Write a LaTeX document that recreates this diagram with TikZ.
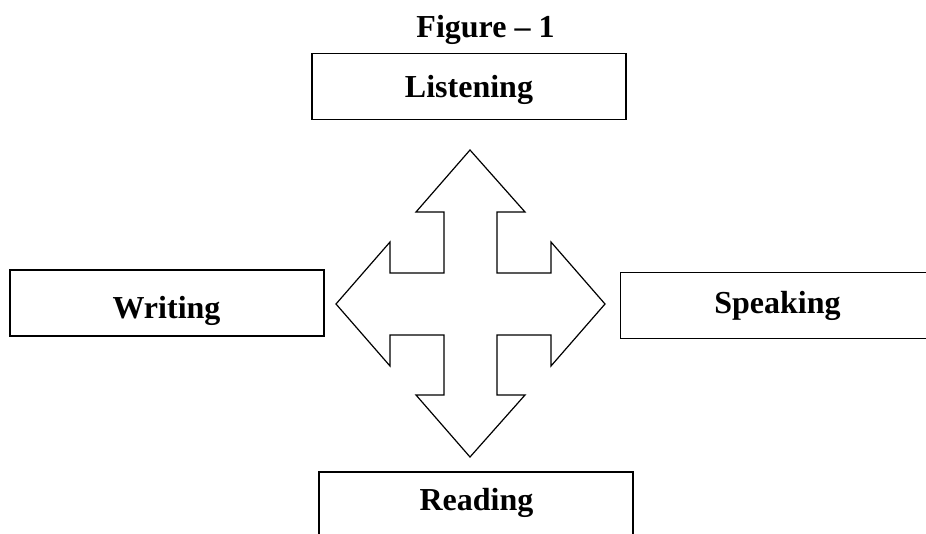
\documentclass[tikz,border=0pt]{standalone}
\usepackage{fontspec}
\setmainfont{Liberation Serif}
\usepackage{tikz}
\usetikzlibrary{positioning}
\tikzstyle{skill}  = [rectangle, draw=black, line width=1.6pt, minimum width=314pt, minimum height=66pt, inner sep=0pt]
\tikzstyle{word}   = [anchor=base, inner sep=0pt, font=\bfseries\fontsize{32}{38}\selectfont]
\tikzstyle{cross}  = [draw=black, line width=1.2pt, line join=miter, fill=white]

\begin{document}
\begin{tikzpicture}[x=1pt,y=-1pt]
	\useasboundingbox (0,0) rectangle (926,533);
	\clip (0,0) rectangle (926,533);

	\node[word] (title) at (485.5,37) {Figure \textendash{} 1};

	\node[skill] (listen) at (469,86.5) {};
	\node[skill] (write)  at (167,303) {};
	\node[skill] (speak)  at (777.5,305.5) {};
	\node[skill] (read)   at (476,505) {};

	\node[word] (listentxt) at (469,97)    {Listening};
	\node[word] (writetxt)  at (166.5,318) {Writing};
	\node[word] (speaktxt)  at (777.5,313) {Speaking};
	\node[word] (readtxt)   at (476.5,510) {Reading};

	\draw[cross] (470,150) -- (525,212) -- (497,212) -- (497,273) -- (551,273) -- (551,242)
		-- (605,304) -- (551,366) -- (551,335) -- (497,335) -- (497,395) -- (525,395)
		-- (470,457) -- (416,395) -- (444,395) -- (444,335) -- (390,335) -- (390,366)
		-- (336,304) -- (390,242) -- (390,273) -- (444,273) -- (444,212) -- (416,212) -- cycle;
\end{tikzpicture}
\end{document}
